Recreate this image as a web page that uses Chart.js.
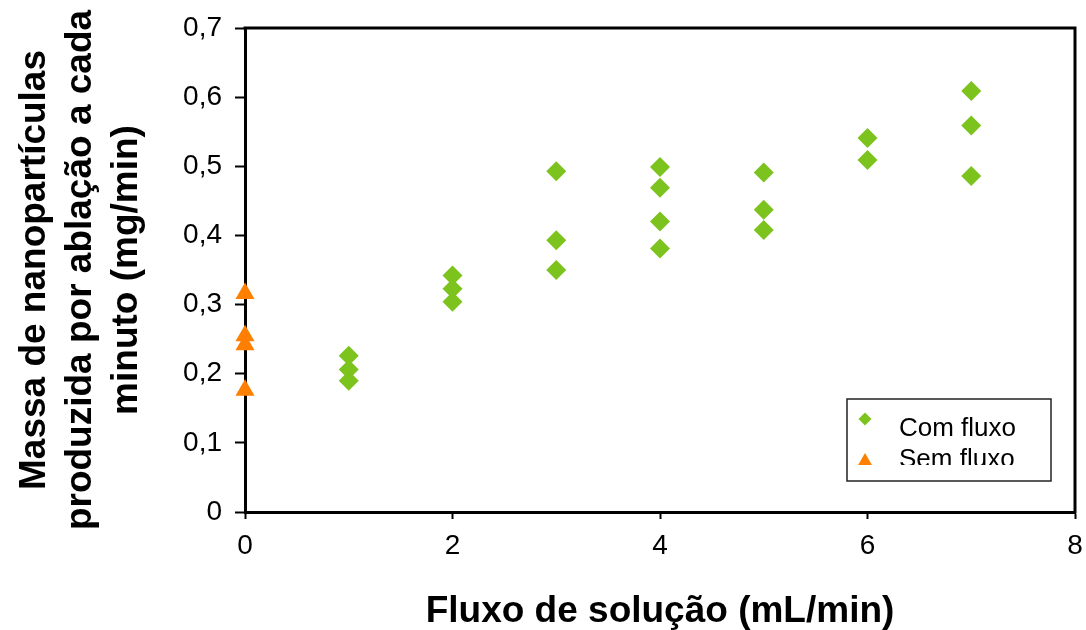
<!DOCTYPE html>
<html>
<head>
<meta charset="utf-8">
<script src="https://cdn.jsdelivr.net/npm/chart.js@4.4.0/dist/chart.umd.min.js"></script>
<style>
  html, body { margin: 0; padding: 0; background: #fff; }
  #wrap { width: 1086px; height: 630px; }
</style>
</head>
<body>
<div id="wrap"><canvas id="chart" width="1086" height="630"></canvas></div>
<script>
// values
const comFluxoX = [1, 1, 1, 2, 2, 2, 3, 3, 3, 4, 4, 4, 4, 5, 5, 5, 6, 6, 7, 7, 7];
const comFluxoY = [0.226, 0.206, 0.190, 0.342, 0.323, 0.304, 0.493, 0.393, 0.350,
                   0.499, 0.469, 0.420, 0.381, 0.491, 0.437, 0.408, 0.541, 0.509,
                   0.609, 0.559, 0.486];
const semFluxoX = [0, 0, 0, 0];
const semFluxoY = [0.316, 0.255, 0.242, 0.176];

const xTicks = [0, 2, 4, 6, 8];
const yTicks = [0, 0.1, 0.2, 0.3, 0.4, 0.5, 0.6, 0.7];

const seriesNames = ['Com fluxo', 'Sem fluxo'];
const GREEN = '#7DC31E';
const ORANGE = '#FF7F00';
const FONT = "'Liberation Sans', Arial, sans-serif";

const toPoints = (xs, ys) => xs.map((x, i) => ({ x, y: ys[i] }));

// top + right sides of the plot box
const frame = {
  id: 'frame',
  beforeDatasetsDraw(chart) {
    const { ctx, chartArea: a } = chart;
    ctx.save();
    ctx.strokeStyle = '#000';
    ctx.lineWidth = 3;
    ctx.beginPath();
    ctx.moveTo(a.left - 1.5, a.top);
    ctx.lineTo(a.right, a.top);
    ctx.lineTo(a.right, a.bottom + 1.5);
    ctx.stroke();
    ctx.restore();
  }
};

// boxed legend sitting inside the plot, bottom right
const boxLegend = {
  id: 'boxLegend',
  afterDatasetsDraw(chart) {
    const { ctx, chartArea: a } = chart;
    const left = a.right - 228, top = a.bottom - 113;
    const w = 204, h = 82;
    ctx.save();
    ctx.fillStyle = '#fff';
    ctx.fillRect(left, top, w, h);
    ctx.strokeStyle = '#222';
    ctx.lineWidth = 1.5;
    ctx.strokeRect(left, top, w, h);

    // diamond
    const dx = left + 18, dy = top + 20, dr = 6.5;
    ctx.fillStyle = chart.data.datasets[0].backgroundColor;
    ctx.beginPath();
    ctx.moveTo(dx, dy - dr); ctx.lineTo(dx + dr, dy);
    ctx.lineTo(dx, dy + dr); ctx.lineTo(dx - dr, dy);
    ctx.closePath(); ctx.fill();

    // triangle
    const tx = left + 18, ty = top + 62, tr = 8;
    ctx.fillStyle = chart.data.datasets[1].backgroundColor;
    ctx.beginPath();
    ctx.moveTo(tx, ty - tr);
    ctx.lineTo(tx + tr * 0.866, ty + tr / 2);
    ctx.lineTo(tx - tr * 0.866, ty + tr / 2);
    ctx.closePath(); ctx.fill();

    ctx.beginPath();
    ctx.rect(left + 2, top + 2, w - 4, 64);
    ctx.clip();
    ctx.fillStyle = '#000';
    ctx.font = '26px ' + FONT;
    ctx.textBaseline = 'alphabetic';
    ctx.fillText(chart.data.datasets[0].label, left + 52, top + 37);
    ctx.fillText(chart.data.datasets[1].label, left + 52, top + 68);
    ctx.restore();
  }
};

new Chart(document.getElementById('chart'), {
  type: 'scatter',
  data: {
    datasets: [
      {
        label: seriesNames[0],
        data: toPoints(comFluxoX, comFluxoY),
        pointStyle: 'rectRot',
        pointRadius: 10,
        pointHoverRadius: 10,
        backgroundColor: GREEN,
        borderWidth: 0,
        clip: false,
      },
      {
        label: seriesNames[1],
        data: toPoints(semFluxoX, semFluxoY),
        pointStyle: 'triangle',
        pointRadius: 11,
        pointHoverRadius: 11,
        backgroundColor: ORANGE,
        borderWidth: 0,
        clip: false,
      },
    ],
  },
  options: {
    responsive: false,
    animation: false,
    layout: { padding: { top: 28, right: 11, bottom: 0, left: 0 } },
    plugins: {
      legend: { display: false },
      tooltip: { enabled: false },
    },
    scales: {
      x: {
        type: 'linear',
        min: xTicks[0],
        max: xTicks[xTicks.length - 1],
        afterBuildTicks: s => { s.ticks = xTicks.map(v => ({ value: v })); },
        ticks: {
          color: '#000',
          font: { family: FONT, size: 28 },
          padding: 10,
          maxRotation: 0,
        },
        grid: { drawOnChartArea: false, tickLength: 7, tickColor: '#000', tickWidth: 2 },
        border: { color: '#000', width: 3 },
        title: {
          display: true,
          text: 'Fluxo de solução (mL/min)',
          color: '#000',
          font: { family: FONT, size: 37, weight: 'bold', lineHeight: 1 },
          padding: { top: 0, bottom: 0 },
        },
        afterFit: s => { s.height = 118; s.paddingLeft = 0; s.paddingRight = 0; },
      },
      y: {
        type: 'linear',
        min: yTicks[0],
        max: yTicks[yTicks.length - 1],
        afterBuildTicks: s => { s.ticks = yTicks.map(v => ({ value: v })); },
        ticks: {
          color: '#000',
          font: { family: FONT, size: 28 },
          padding: 13,
          callback: v => (v === 0 ? '0' : v.toFixed(1).replace('.', ',')),
        },
        grid: { drawOnChartArea: false, tickLength: 10, tickColor: '#000', tickWidth: 2 },
        border: { color: '#000', width: 3 },
        title: {
          display: true,
          text: ['Massa de nanopartículas', 'produzida por ablação a cada', 'minuto (mg/min)'],
          color: '#000',
          font: { family: FONT, size: 37, weight: 'bold', lineHeight: 46 / 37 },
          padding: { top: 12, bottom: 0 },
        },
        afterFit: s => { s.width = 245; s.paddingTop = 0; s.paddingBottom = 0; },
      },
    },
  },
  plugins: [frame, boxLegend],
});
</script>
</body>
</html>
